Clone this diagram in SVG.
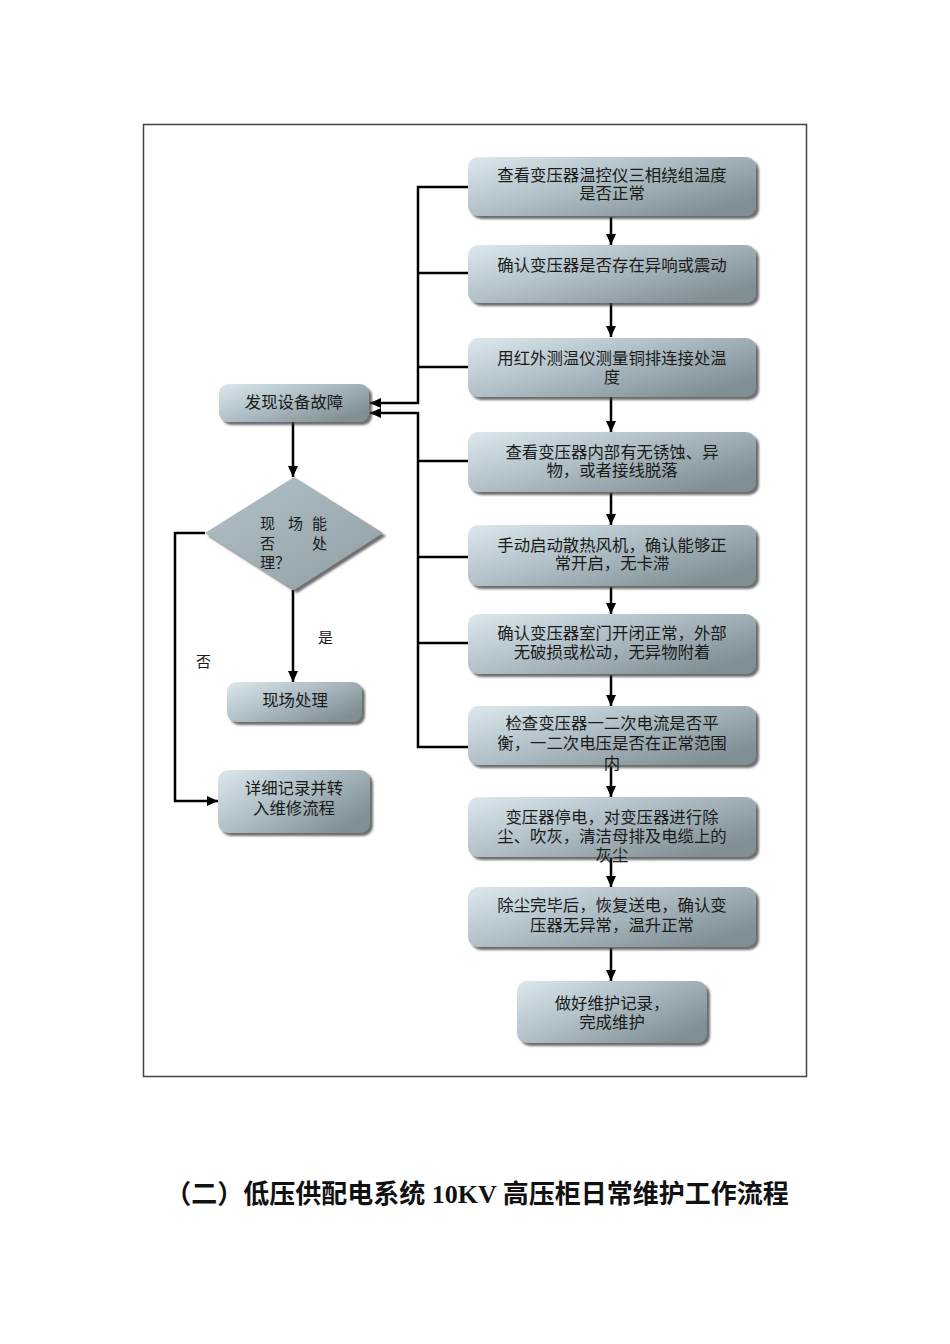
<svg xmlns="http://www.w3.org/2000/svg" width="950" height="1344" viewBox="0 0 950 1344">
<defs>
<linearGradient id="g" x1="0" y1="0" x2="1" y2="0.7">
<stop offset="0" stop-color="#dce9ef"/>
<stop offset="0.5" stop-color="#aebec4"/>
<stop offset="1" stop-color="#7f8f94"/>
</linearGradient>
<linearGradient id="gd" x1="0" y1="0" x2="1" y2="1">
<stop offset="0" stop-color="#b3c3c9"/>
<stop offset="1" stop-color="#8e9ea3"/>
</linearGradient>
<filter id="sh" x="-10%" y="-10%" width="125%" height="130%">
<feDropShadow dx="3" dy="3" stdDeviation="1.2" flood-color="#3c3c3c" flood-opacity="0.75"/>
</filter>
<marker id="ah" markerUnits="userSpaceOnUse" markerWidth="12" markerHeight="12" viewBox="0 0 12 12" refX="11" refY="6" orient="auto">
<path d="M0,1 L11,6 L0,11 Z" fill="#000"/>
</marker>
</defs>
<style>
.box{fill:url(#g);filter:url(#sh);}
.t{font-family:"Liberation Serif","Noto Sans CJK SC",serif;font-size:16.4px;fill:#1a1a1a;text-anchor:middle;}
.ts{font-family:"Liberation Serif","Noto Sans CJK SC",serif;font-size:15px;fill:#1a1a1a;}
.c{fill:none;stroke:#000;stroke-width:2.5;}
.ca{fill:none;stroke:#000;stroke-width:2.5;marker-end:url(#ah);}
.title{font-family:"Liberation Serif","Noto Sans CJK SC",serif;font-size:26px;font-weight:bold;fill:#111;text-anchor:middle;}
</style>

<rect x="143.5" y="124.5" width="663" height="952" fill="none" stroke="#444" stroke-width="1.5"/>

<g id="connectors">
<path class="ca" d="M611,217 V245"/>
<path class="ca" d="M611,303 V337"/>
<path class="ca" d="M611,397 V432"/>
<path class="ca" d="M611,493 V525"/>
<path class="ca" d="M611,587 V614"/>
<path class="ca" d="M611,675 V706"/>
<path class="ca" d="M611,766 V797"/>
<path class="ca" d="M611,858 V887"/>
<path class="ca" d="M611,948 V981"/>
<path class="ca" d="M468,187 H418 V403 H370"/>
<path class="c" d="M468,273 H418"/>
<path class="c" d="M468,367 H418"/>
<path class="ca" d="M468,747 H418 V413 H370"/>
<path class="c" d="M468,461 H418"/>
<path class="c" d="M468,557 H418"/>
<path class="c" d="M468,643 H418"/>
<path class="ca" d="M293,422 V477"/>
<path class="ca" d="M293,590 V682"/>
<path class="ca" d="M205,533 H175 V801 H218"/>
</g>

<g id="n1"><rect class="box" x="468" y="157" width="288" height="59" rx="10"/>
<text class="t" x="612" y="181">查看变压器温控仪三相绕组温度</text>
<text class="t" x="612" y="199">是否正常</text></g>

<g id="n2"><rect class="box" x="468" y="245" width="288" height="58" rx="10"/>
<text class="t" x="612" y="271">确认变压器是否存在异响或震动</text></g>

<g id="n3"><rect class="box" x="468" y="338" width="288" height="59" rx="10"/>
<text class="t" x="612" y="364">用红外测温仪测量铜排连接处温</text>
<text class="t" x="612" y="383">度</text></g>

<g id="n4"><rect class="box" x="468" y="432" width="288" height="60" rx="10"/>
<text class="t" x="612" y="458">查看变压器内部有无锈蚀、异</text>
<text class="t" x="612" y="476">物，或者接线脱落</text></g>

<g id="n5"><rect class="box" x="468" y="525" width="288" height="61" rx="10"/>
<text class="t" x="612" y="551">手动启动散热风机，确认能够正</text>
<text class="t" x="612" y="569">常开启，无卡滞</text></g>

<g id="n6"><rect class="box" x="468" y="614" width="288" height="60" rx="10"/>
<text class="t" x="612" y="639">确认变压器室门开闭正常，外部</text>
<text class="t" x="612" y="658">无破损或松动，无异物附着</text></g>

<g id="n7"><rect class="box" x="468" y="706" width="288" height="59" rx="10"/>
<text class="t" x="612" y="729">检查变压器一二次电流是否平</text>
<text class="t" x="612" y="749">衡，一二次电压是否在正常范围</text>
<text class="t" x="612" y="769">内</text></g>

<g id="n8"><rect class="box" x="468" y="797" width="288" height="60" rx="10"/>
<text class="t" x="612" y="823">变压器停电，对变压器进行除</text>
<text class="t" x="612" y="842">尘、吹灰，清洁母排及电缆上的</text>
<text class="t" x="612" y="861">灰尘</text></g>

<g id="n9"><rect class="box" x="468" y="887" width="288" height="60" rx="10"/>
<text class="t" x="612" y="911">除尘完毕后，恢复送电，确认变</text>
<text class="t" x="612" y="931">压器无异常，温升正常</text></g>

<g id="n10"><rect class="box" x="517" y="981" width="190" height="62" rx="10"/>
<text class="t" x="612" y="1009">做好维护记录，</text>
<text class="t" x="612" y="1028">完成维护</text></g>

<g id="n11"><rect class="box" x="219" y="384" width="150" height="38" rx="9"/>
<text class="t" x="294" y="408">发现设备故障</text></g>

<g id="n12"><polygon points="294,477 383,533 294,590 205,533" fill="url(#gd)" filter="url(#sh)"/>
<text class="ts" x="260" y="529">现</text><text class="ts" x="288" y="529">场</text><text class="ts" x="312" y="529">能</text>
<text class="ts" x="260" y="549">否</text><text class="ts" x="312" y="549">处</text>
<text class="ts" x="260" y="568">理？</text></g>

<g id="n13"><rect class="box" x="227" y="682" width="135" height="40" rx="9"/>
<text class="t" x="295" y="706">现场处理</text></g>

<g id="n14"><rect class="box" x="218" y="770" width="152" height="63" rx="10"/>
<text class="t" x="294" y="794">详细记录并转</text>
<text class="t" x="294" y="814">入维修流程</text></g>

<g id="labels">
<text class="ts" x="318" y="643">是</text>
<text class="ts" x="196" y="667">否</text>
</g>

<text class="title" x="477" y="1203">（二）低压供配电系统 10KV 高压柜日常维护工作流程</text>
</svg>
